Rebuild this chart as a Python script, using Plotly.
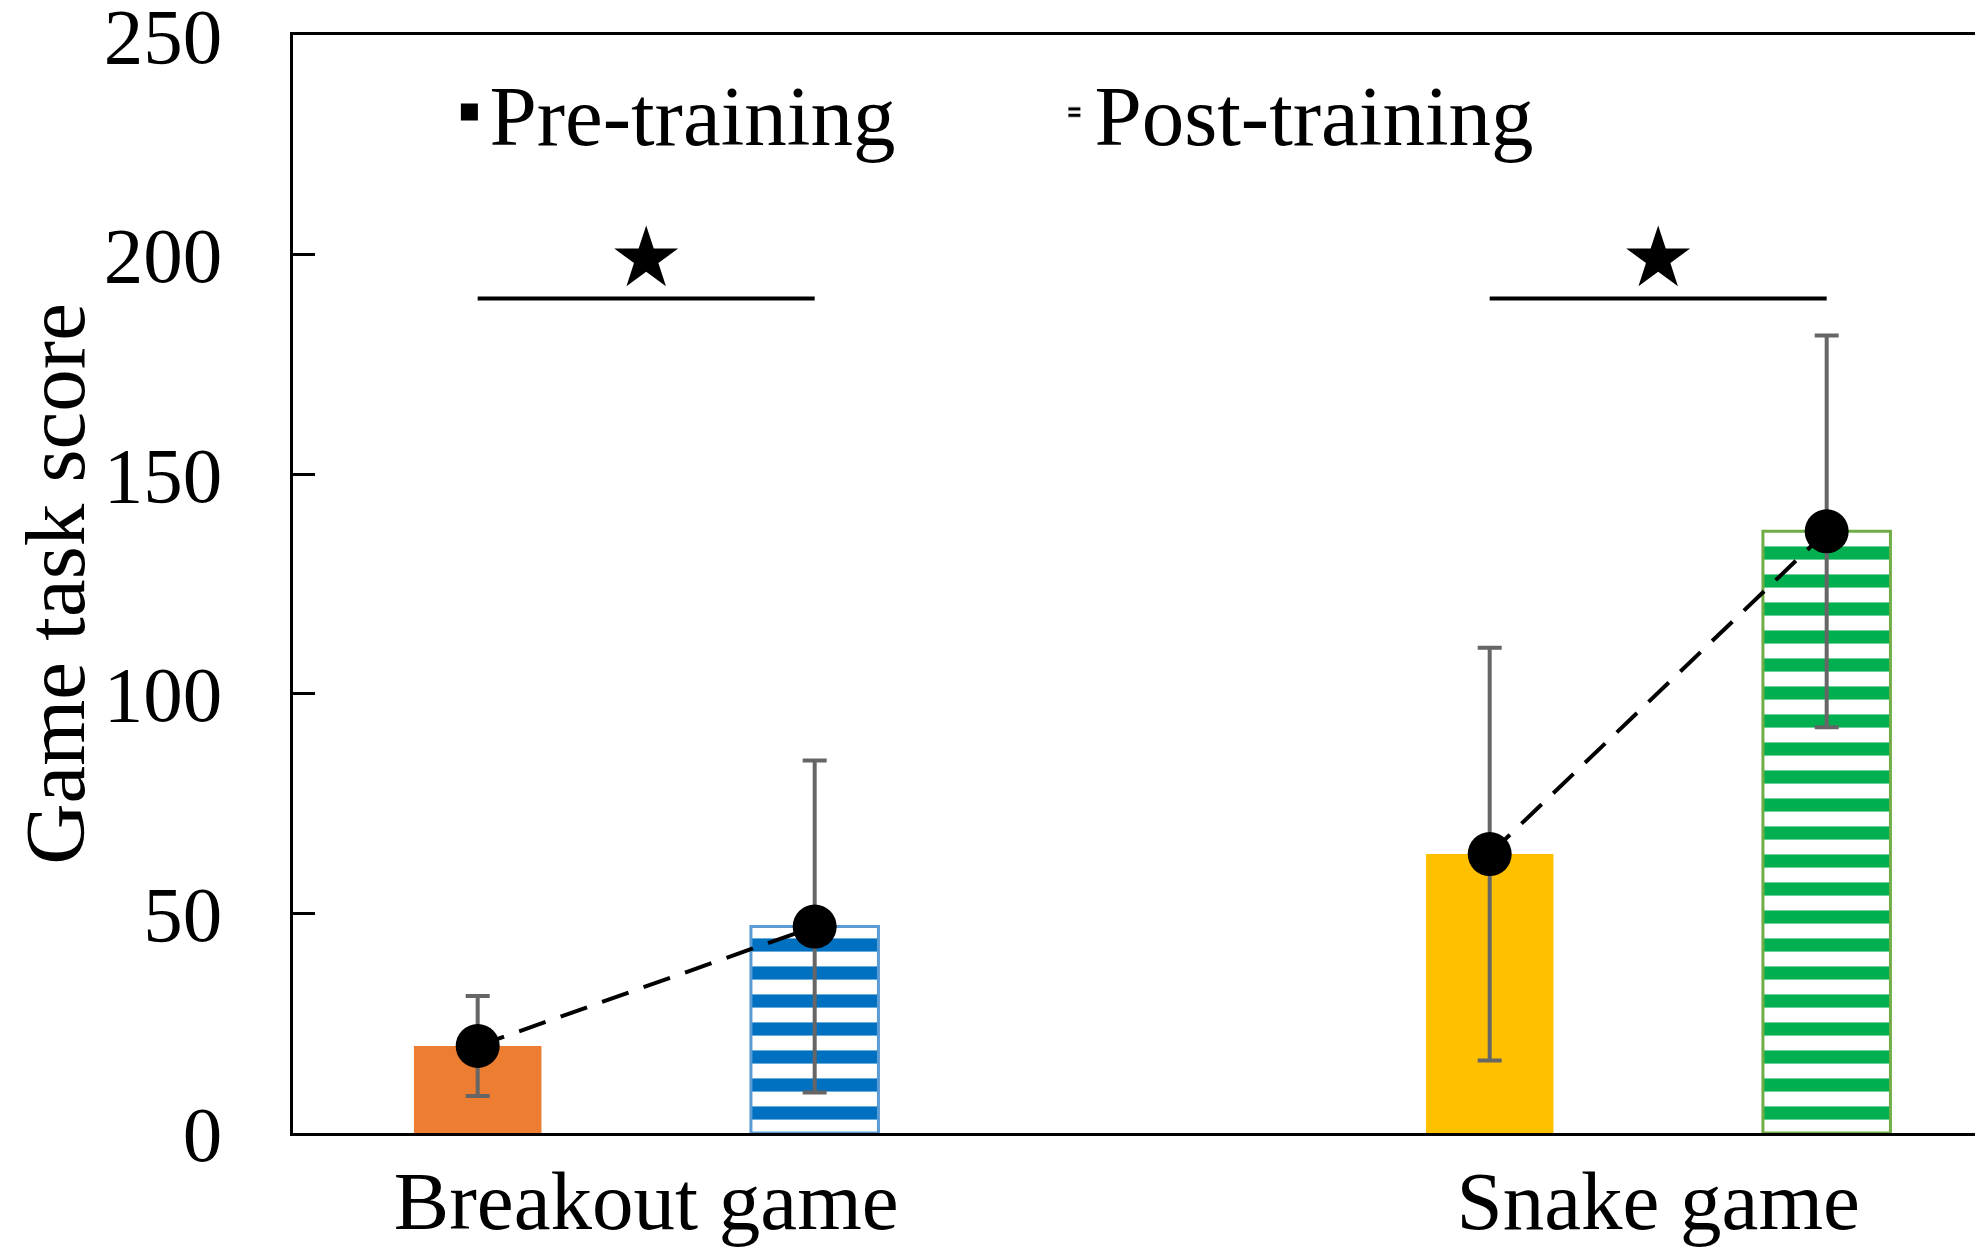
import plotly.graph_objects as go

categories = ["Breakout game", "Snake game"]
pre_mean = [19.8, 63.5]
pre_err = [11.4, 47.0]
post_mean = [47.0, 137.0]
post_err = [37.8, 44.6]
sig_level = [190, 190]
star_level = [199, 199]
y_ticks = [0, 50, 100, 150, 200, 250]

pre_colors = ["#ED7D31", "#FFC000"]
post_colors = ["#0070C0", "#00B050"]
post_edges = ["#5B9BD5", "#70AD47"]

half = 0.1665   # distance from category centre to each bar centre
bar_w = 0.126

idx = list(range(len(categories)))
x_pre = [i - half for i in idx]
x_post = [i + half for i in idx]

fig = go.Figure()

fig.add_trace(go.Bar(
    x=x_pre, y=pre_mean, width=bar_w,
    marker=dict(color=pre_colors, line=dict(width=0)),
    error_y=dict(type="data", array=pre_err, color="#666666", thickness=4, width=12),
    showlegend=False,
))

fig.add_trace(go.Bar(
    x=x_post, y=post_mean, width=bar_w,
    marker=dict(
        color="white",
        line=dict(color=post_edges, width=3),
        pattern=dict(shape="-", fillmode="replace", fgcolor=post_colors,
                     bgcolor="white", size=28, solidity=0.47),
    ),
    error_y=dict(type="data", array=post_err, color="#666666", thickness=4, width=12),
    showlegend=False,
))

# legend-only entries (black icons)
fig.add_trace(go.Bar(x=[None], y=[None], name="Pre-training",
                     marker=dict(color="black", line=dict(color="black", width=5))))
fig.add_trace(go.Bar(
    x=[None], y=[None], name="Post-training",
    marker=dict(color="white", line=dict(width=0),
                pattern=dict(shape="-", fillmode="replace", fgcolor="black",
                             bgcolor="white", size=8, solidity=0.5)),
))

# dashed line joining the means
line_x, line_y = [], []
for i in idx:
    line_x += [x_pre[i], x_post[i], None]
    line_y += [pre_mean[i], post_mean[i], None]
fig.add_trace(go.Scatter(
    x=line_x, y=line_y, mode="lines+markers",
    line=dict(color="black", width=4, dash="28px,16px"),
    marker=dict(color="black", size=44),
    showlegend=False,
))

# significance brackets and stars
br_x, br_y = [], []
for i in idx:
    br_x += [x_pre[i], x_post[i], None]
    br_y += [sig_level[i], sig_level[i], None]
fig.add_trace(go.Scatter(
    x=br_x, y=br_y, mode="lines",
    line=dict(color="black", width=4), showlegend=False,
))
fig.add_trace(go.Scatter(
    x=idx, y=star_level, mode="markers",
    marker=dict(symbol="star", color="black", size=48),
    showlegend=False,
))

# page body has an 8px margin, so the figure is shrunk by that much
fig.update_layout(
    width=1975, height=1243,
    margin=dict(l=285, r=3, t=27, b=118, autoexpand=False),
    barmode="overlay",
    plot_bgcolor="white", paper_bgcolor="white",
    font=dict(family="Liberation Serif, Times New Roman, serif", size=84, color="black"),
    legend=dict(orientation="h", x=0.0927, y=0.986, xanchor="left", yanchor="top",
                font=dict(size=85), bgcolor="rgba(0,0,0,0)", entrywidth=560),
)

fig.update_xaxes(
    range=[-0.349, 1.318], tickvals=idx, ticktext=categories,
    showline=True, linecolor="black", linewidth=3, mirror=True,
    ticks="", showgrid=False, zeroline=False, automargin=False,
    tickfont=dict(size=83), ticklabelstandoff=-7,
)
fig.update_yaxes(
    range=[0, 250], tickvals=y_ticks,
    showline=True, linecolor="black", linewidth=3, mirror=True,
    ticks="inside", ticklen=22, tickwidth=3, tickcolor="black",
    showgrid=False, zeroline=False, automargin=False,
    tickfont=dict(size=79), ticklabelstandoff=52, ticklabeloverflow="allow",
    title=dict(text="Game task score", font=dict(size=85), standoff=45),
)

fig.write_html("out.html")
